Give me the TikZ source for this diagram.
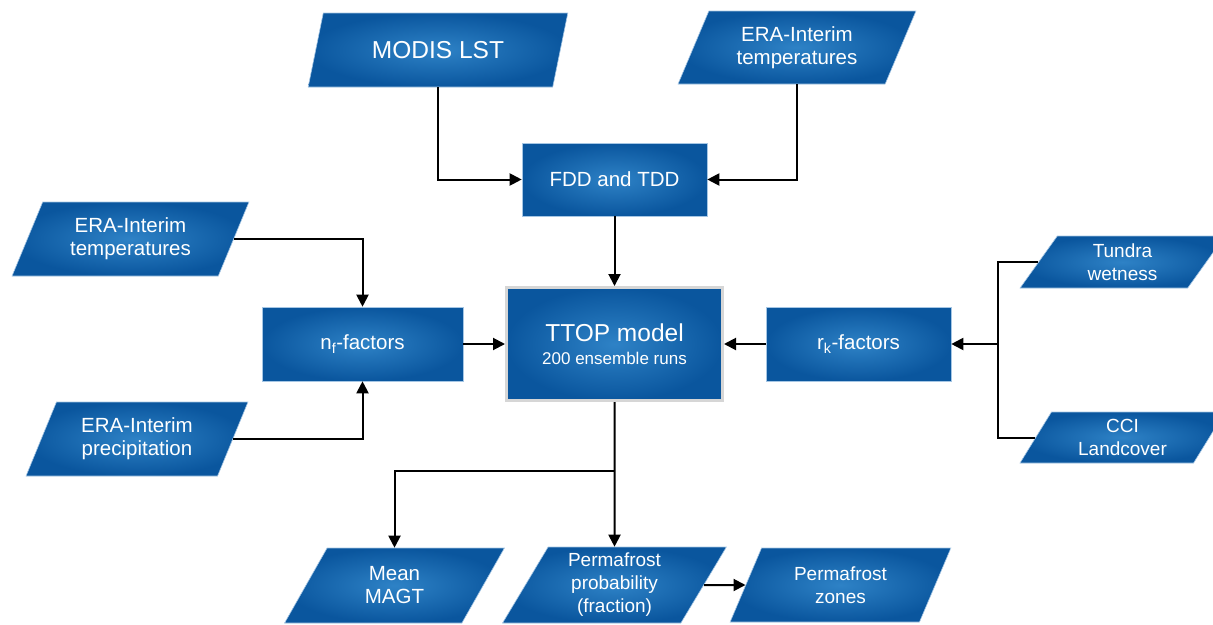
\documentclass[tikz,border=0pt]{standalone}
\usepackage{fontspec}
\setmainfont{Liberation Sans}
\usetikzlibrary{arrows.meta,shapes.geometric}
\definecolor{boxlight}{RGB}{46,130,198}
\definecolor{boxdark}{RGB}{10,86,158}
\definecolor{boxedge}{RGB}{165,198,228}
\definecolor{ttopframe}{RGB}{214,214,214}
\tikzset{>/.tip={Triangle[length=12pt,width=12pt]},
  databox/.style={trapezium, trapezium left angle=63.4, trapezium right angle=116.6,
    trapezium stretches=true, inner color=boxlight, outer color=boxdark,
    draw=boxedge, line width=0.6pt, text=white, align=center, inner sep=0pt,
    font=\fontsize{20.5}{23}\selectfont},
  procbox/.style={rectangle, inner color=boxlight, outer color=boxdark,
    draw=boxedge, line width=0.6pt, text=white, align=center, inner sep=0pt,
    minimum height=74pt, font=\fontsize{20.5}{23}\selectfont},
  link/.style={line width=2pt}}
\begin{document}
\begin{tikzpicture}[x=1pt,y=-1pt]
\useasboundingbox (0,0) rectangle (1213,624);
\node[databox, minimum width=260pt, minimum height=74pt, font=\fontsize{24.5}{28}\selectfont] (modis) at (438,50) {MODIS LST};
\node[databox, minimum width=238pt, minimum height=73pt] (eratemp) at (797,47.5) {ERA-Interim\\temperatures};
\node[procbox, minimum width=185pt, minimum height=73pt] (fdd) at (614.5,179.5) {FDD and TDD};
\node[databox, minimum width=237pt, minimum height=74pt] (eraleft) at (130.5,239) {ERA-Interim\\temperatures};
\node[databox, minimum width=222pt, minimum height=74pt] (eraprec) at (137,439) {ERA-Interim\\precipitation};
\node[procbox, minimum width=201pt] (nf) at (362.5,344) {n\textsubscript{f}-factors};
\node[procbox, minimum width=216pt, minimum height=113pt, draw=ttopframe, line width=3pt] (ttop) at (614.5,344)
  {{\fontsize{24.5}{23}\selectfont TTOP model}\\{\fontsize{17}{20}\selectfont 200 ensemble runs}};
\node[procbox, minimum width=185pt] (rk) at (858.5,344) {r\textsubscript{k}-factors};
\node[databox, trapezium left angle=61.7, trapezium right angle=118.3, minimum width=205pt, minimum height=52pt,
  font=\fontsize{19}{23}\selectfont] (tundra) at (1122.5,262) {Tundra\\wetness};
\node[databox, trapezium left angle=61.7, trapezium right angle=118.3, minimum width=205pt, minimum height=51pt,
  font=\fontsize{19}{23}\selectfont] (cci) at (1122.5,437.5) {CCI\\Landcover};
\node[databox, minimum width=221pt, minimum height=75pt] (magt) at (394.5,585.5) {Mean\\MAGT};
\node[databox, minimum width=224pt, minimum height=76pt, font=\fontsize{19}{23}\selectfont] (prob) at (614.5,585) {Permafrost\\probability\\(fraction)};
\node[databox, minimum width=221pt, minimum height=74pt, font=\fontsize{19}{23}\selectfont] (zones) at (840.5,585) {Permafrost\\zones};
\coordinate (rkjoin) at (998,344);
\coordinate (split) at (614.5,471);
\draw[link,->] (modis.south) |- (fdd.west);
\draw[link,->] (eratemp.south) |- (fdd.east);
\draw[link,->] (fdd) -- (ttop);
\draw[link,->] (eraleft.east) -| (nf.north);
\draw[link,->] (eraprec.east) -| (nf.south);
\draw[link,->] (nf) -- (ttop);
\draw[link,->] (rk) -- (ttop);
\draw[link] (tundra.west) -| (rkjoin);
\draw[link] (cci.west) -| (rkjoin);
\draw[link,->] (rkjoin) -- (rk.east);
\draw[link,->] (ttop.south) -- (split) -- (prob.north);
\draw[link,->] (split) -| (magt.north);
\draw[link,->] (prob.east) -- (zones.west);
\end{tikzpicture}
\end{document}
